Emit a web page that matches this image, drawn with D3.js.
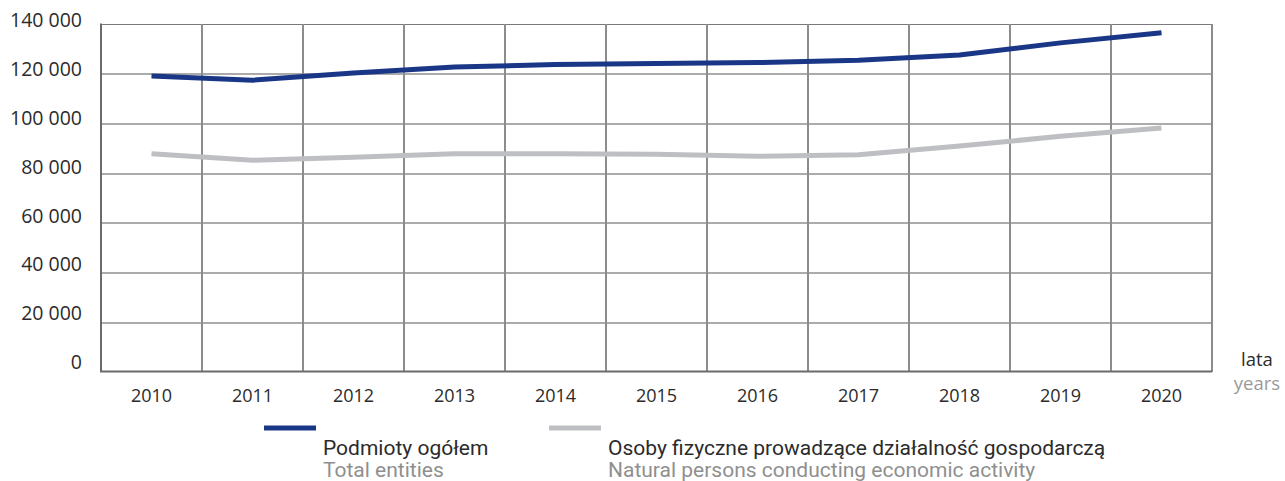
<!DOCTYPE html>
<meta charset="utf-8">
<style>
body { margin: 0; background: #fff; }
svg text { font-family: "Open Sans", "Noto Sans", sans-serif; fill: #2b2b2b; }
.grid line { shape-rendering: crispEdges; }
.legend text { font-family: "Liberation Sans Narrow", "Roboto", sans-serif; }
</style>
<svg width="1285" height="481"></svg>
<script src="https://d3js.org/d3.v7.min.js"></script>
<script>

var years = ["2010","2011","2012","2013","2014","2015","2016","2017","2018","2019","2020"];
var totalEntities = [118900, 117200, 120100, 122500, 123500, 123900, 124300, 125200, 127300, 132200, 136300];
var naturalPersons = [87600, 85000, 86200, 87600, 87600, 87400, 86600, 87200, 90700, 94600, 98000];
var yTicks = [0, 20000, 40000, 60000, 80000, 100000, 120000, 140000];

var svg = d3.select("svg");

var x = d3.scaleBand()
    .domain(years)
    .range([101, 1212]);

var y = d3.scaleLinear()
    .domain([0, 140000])
    .range([371.5, 23.5]);

// tick labels sit slightly off the gridlines in the original
var yLabel = d3.scaleLinear()
    .domain([0, 140000])
    .range([363.5, 21.7]);

var fmt = function(d) { return d3.format(",")(d).replace(/,/g, " "); };

// horizontal grid
svg.append("g").attr("class", "grid")
  .selectAll("line")
  .data(yTicks.slice(1))
  .enter().append("line")
    .attr("x1", x.range()[0])
    .attr("x2", x.range()[1])
    .attr("y1", function(d) { return Math.round(y(d)) + 0.5; })
    .attr("y2", function(d) { return Math.round(y(d)) + 0.5; })
    .attr("stroke", function(d) { return d === 140000 ? "#7a7a7a" : "#ababab"; })
    .attr("stroke-width", function(d) { return d === 140000 ? 1.5 : 2; });

// vertical grid (band edges)
svg.append("g").attr("class", "grid")
  .selectAll("line")
  .data(years.slice(1).concat(["end"]))
  .enter().append("line")
    .attr("x1", function(d) { return d === "end" ? x.range()[1] : x(d); })
    .attr("x2", function(d) { return d === "end" ? x.range()[1] : x(d); })
    .attr("y1", y(140000))
    .attr("y2", y(0))
    .attr("stroke", "#8c8c8c")
    .attr("stroke-width", 1.5);

// axes
svg.append("line")
    .attr("x1", x.range()[0]).attr("x2", x.range()[0])
    .attr("y1", y(140000)).attr("y2", y(0))
    .attr("stroke", "#6a6a6a").attr("stroke-width", 2);
svg.append("line")
    .attr("x1", x.range()[0] - 1).attr("x2", x.range()[1])
    .attr("y1", y(0)).attr("y2", y(0))
    .attr("stroke", "#6a6a6a").attr("stroke-width", 2);

// y labels
svg.append("g")
  .selectAll("text")
  .data(yTicks)
  .enter().append("text")
    .attr("x", 82)
    .attr("y", function(d) { return yLabel(d) + 5.5; })
    .attr("text-anchor", "end")
    .attr("font-size", 19.5)
    .text(fmt);

// x labels
svg.append("g")
  .selectAll("text")
  .data(years)
  .enter().append("text")
    .attr("x", function(d) { return x(d) + x.bandwidth() / 2; })
    .attr("y", 402)
    .attr("text-anchor", "middle")
    .attr("font-size", 18)
    .text(function(d) { return d; });

svg.append("text").attr("x", 1257).attr("y", 366).attr("text-anchor", "middle")
    .attr("font-size", 18.5).text("lata");
svg.append("text").attr("x", 1257).attr("y", 390).attr("text-anchor", "middle")
    .attr("font-size", 18.5).style("fill", "#9a9a9a").text("years");

var line = d3.line()
    .x(function(d, i) { return x(years[i]) + x.bandwidth() / 2; })
    .y(function(d) { return y(d); });

svg.append("path")
    .datum(naturalPersons)
    .attr("d", line)
    .attr("fill", "none")
    .attr("stroke", "#bebfc3")
    .attr("stroke-width", 5);

svg.append("path")
    .datum(totalEntities)
    .attr("d", line)
    .attr("fill", "none")
    .attr("stroke", "#1a3787")
    .attr("stroke-width", 5);

// legend
var legend = [
  { pl: "Podmioty ogółem", en: "Total entities", color: "#1a3787", x: 264 },
  { pl: "Osoby fizyczne prowadzące działalność gospodarczą", en: "Natural persons conducting economic activity", color: "#bebfc3", x: 549 }
];

var lg = svg.append("g").attr("class", "legend")
  .selectAll("g")
  .data(legend)
  .enter().append("g")
    .attr("transform", function(d) { return "translate(" + d.x + ",0)"; });

lg.append("line")
    .attr("x1", 0).attr("x2", 52)
    .attr("y1", 428).attr("y2", 428)
    .attr("stroke", function(d) { return d.color; })
    .attr("stroke-width", 5);
lg.append("text")
    .attr("x", 59).attr("y", 455)
    .attr("font-size", 21)
    .text(function(d) { return d.pl; });
lg.append("text")
    .attr("x", 59).attr("y", 477)
    .attr("font-size", 21)
    .style("fill", "#8f8f8f")
    .text(function(d) { return d.en; });

</script>
